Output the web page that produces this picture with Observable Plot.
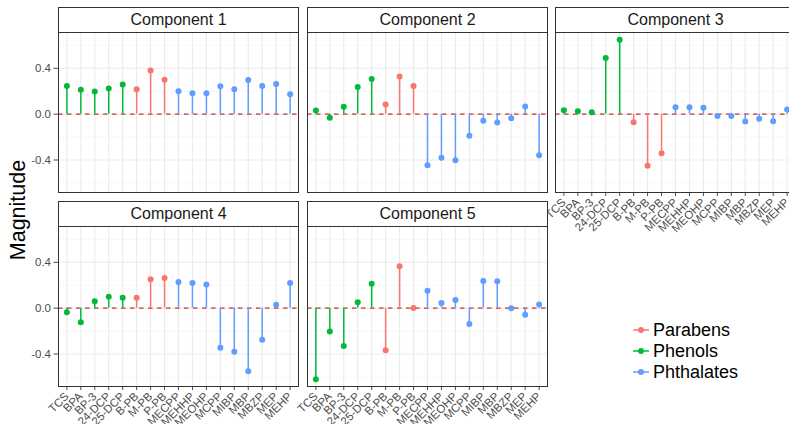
<!DOCTYPE html>
<html>
<head>
<meta charset="utf-8">
<script src="https://cdn.jsdelivr.net/npm/d3@7"></script>
<script src="https://cdn.jsdelivr.net/npm/@observablehq/plot@0.6"></script>
<style>
  html, body { margin: 0; padding: 0; overflow: hidden; background: #fff; }
  #chart { position: relative; width: 789px; height: 424px; overflow: hidden; font-family: "Liberation Sans", Arial, sans-serif; }
  .panel { position: absolute; }
  .panel svg { overflow: visible; max-width: none !important; }
  .strip { position: absolute; box-sizing: border-box; border: 1px solid #333; background: #fff; color: #1a1a1a;
           font-size: 16px; display: flex; align-items: center; justify-content: center; }
  .ytitle { position: absolute; left: 18px; top: 210px; transform: translate(-50%, -50%) rotate(-90deg);
            font-size: 21.5px; color: #000; white-space: nowrap; }
  .legend { position: absolute; left: 632px; top: 320px; font-size: 18px; color: #000; }
  .legend .item { display: flex; align-items: center; height: 20.8px; }
  .legend svg { margin-right: 3px; }
</style>
</head>
<body>
<div id="chart"></div>
<script>
const categories = ["TCS","BPA","BP-3","24-DCP","25-DCP","B-PB","M-PB","P-PB","MECPP","MEHHP","MEOHP","MCPP","MIBP","MBP","MBZP","MEP","MEHP"];
const groups = ["Phenols","Phenols","Phenols","Phenols","Phenols","Parabens","Parabens","Parabens",
  "Phthalates","Phthalates","Phthalates","Phthalates","Phthalates","Phthalates","Phthalates","Phthalates","Phthalates"];
const componentNames = ["Component 1","Component 2","Component 3","Component 4","Component 5"];
const component1 = [0.246,0.214,0.197,0.223,0.258,0.217,0.380,0.301,0.200,0.183,0.183,0.243,0.217,0.299,0.246,0.264,0.174];
const component2 = [0.032,-0.032,0.064,0.238,0.307,0.084,0.328,0.246,-0.446,-0.380,-0.403,-0.188,-0.058,-0.072,-0.035,0.067,-0.359];
const component3 = [0.035,0.026,0.017,0.490,0.649,-0.070,-0.449,-0.342,0.061,0.061,0.055,-0.017,-0.017,-0.064,-0.041,-0.061,0.041];
const component4 = [-0.035,-0.122,0.061,0.099,0.090,0.090,0.252,0.264,0.229,0.220,0.206,-0.345,-0.380,-0.551,-0.275,0.029,0.220];
const component5 = [-0.620,-0.203,-0.330,0.052,0.214,-0.368,0.365,0.002,0.151,0.046,0.072,-0.139,0.238,0.235,0.000,-0.058,0.032];
const groupNames = ["Parabens","Phenols","Phthalates"];
const groupColors = ["#F8766D","#00BA38","#619CFF"];
const majorTicks = [-0.4, 0, 0.4];
const minorTicks = [-0.6, -0.2, 0.2, 0.6];

const components = [component1, component2, component3, component4, component5];
const all = components.flat();
const lo = d3.min(all), hi = d3.max(all), pad = (hi - lo) * 0.05;
const yDomain = [lo - pad, hi + pad];

const chart = document.getElementById("chart");
const PW = 240, PH = 160;
const layout = [
  {left: 58,  top: 32,  yAxis: true,  xAxis: false},
  {left: 307, top: 32,  yAxis: false, xAxis: false},
  {left: 555, top: 32,  yAxis: false, xAxis: true},
  {left: 58,  top: 226, yAxis: true,  xAxis: true},
  {left: 307, top: 226, yAxis: false, xAxis: true}
];

components.forEach((vals, i) => {
  const L = layout[i];
  const data = categories.map((c, j) => ({cat: c, group: groups[j], value: vals[j]}));
  const mL = L.yAxis ? 58 : 2, mT = 2, mR = 2, mB = L.xAxis ? 60 : 2;
  const W = mL + PW + mR, H = mT + PH + mB;
  const plot = Plot.plot({
    width: W,
    height: H,
    marginLeft: mL, marginTop: mT, marginRight: mR, marginBottom: mB,
    style: {fontFamily: "'Liberation Sans', Arial, sans-serif", fontSize: "11.5px", color: "#4D4D4D",
            background: "transparent", maxWidth: "none", overflow: "visible"},
    x: {type: "point", domain: categories, padding: 0.6, round: false,
        axis: L.xAxis ? "bottom" : null, label: null, tickRotate: -45, tickSize: 4, tickPadding: 4},
    y: {domain: yDomain, axis: L.yAxis ? "left" : null, label: null, ticks: majorTicks,
        tickFormat: d => d.toFixed(1), tickSize: 4.5, tickPadding: 3},
    color: {domain: groupNames, range: groupColors},
    marks: [
      Plot.ruleY(minorTicks, {stroke: "#F2F2F2", strokeWidth: 0.6}),
      Plot.ruleY(majorTicks, {stroke: "#EBEBEB", strokeWidth: 1.1}),
      Plot.ruleX(categories, {stroke: "#EBEBEB", strokeWidth: 1.1}),
      Plot.ruleY([0], {stroke: "#C7372F", strokeWidth: 1.1, strokeDasharray: "4.5,4.5"}),
      Plot.ruleX(data, {x: "cat", y1: 0, y2: "value", stroke: "group", strokeWidth: 1.5}),
      Plot.dot(data, {x: "cat", y: "value", fill: "group", r: 3, stroke: "none"}),
      Plot.frame({stroke: "#333", strokeWidth: 1})
    ]
  });
  const wrap = document.createElement("div");
  wrap.className = "panel";
  wrap.style.left = (L.left - mL) + "px";
  wrap.style.top = (L.top - mT) + "px";
  wrap.style.width = W + "px";
  wrap.style.height = H + "px";
  wrap.appendChild(plot);
  chart.appendChild(wrap);

  const strip = document.createElement("div");
  strip.className = "strip";
  strip.style.left = L.left + "px";
  strip.style.top = (L.top - 25.5) + "px";
  strip.style.width = (PW + 1) + "px";
  strip.style.height = "26px";
  strip.textContent = componentNames[i];
  chart.appendChild(strip);
});

const yt = document.createElement("div");
yt.className = "ytitle";
yt.textContent = "Magnitude";
chart.appendChild(yt);

const legend = document.createElement("div");
legend.className = "legend";
groupNames.forEach((g, k) => {
  const item = document.createElement("div");
  item.className = "item";
  item.innerHTML = `<svg width="18" height="10"><line x1="1" x2="17" y1="5" y2="5" stroke="${groupColors[k]}" stroke-width="1.5"/><circle cx="9" cy="5" r="3" fill="${groupColors[k]}"/></svg>`;
  const t = document.createElement("span");
  t.textContent = g;
  item.appendChild(t);
  legend.appendChild(item);
});
chart.appendChild(legend);
</script>
</body>
</html>
